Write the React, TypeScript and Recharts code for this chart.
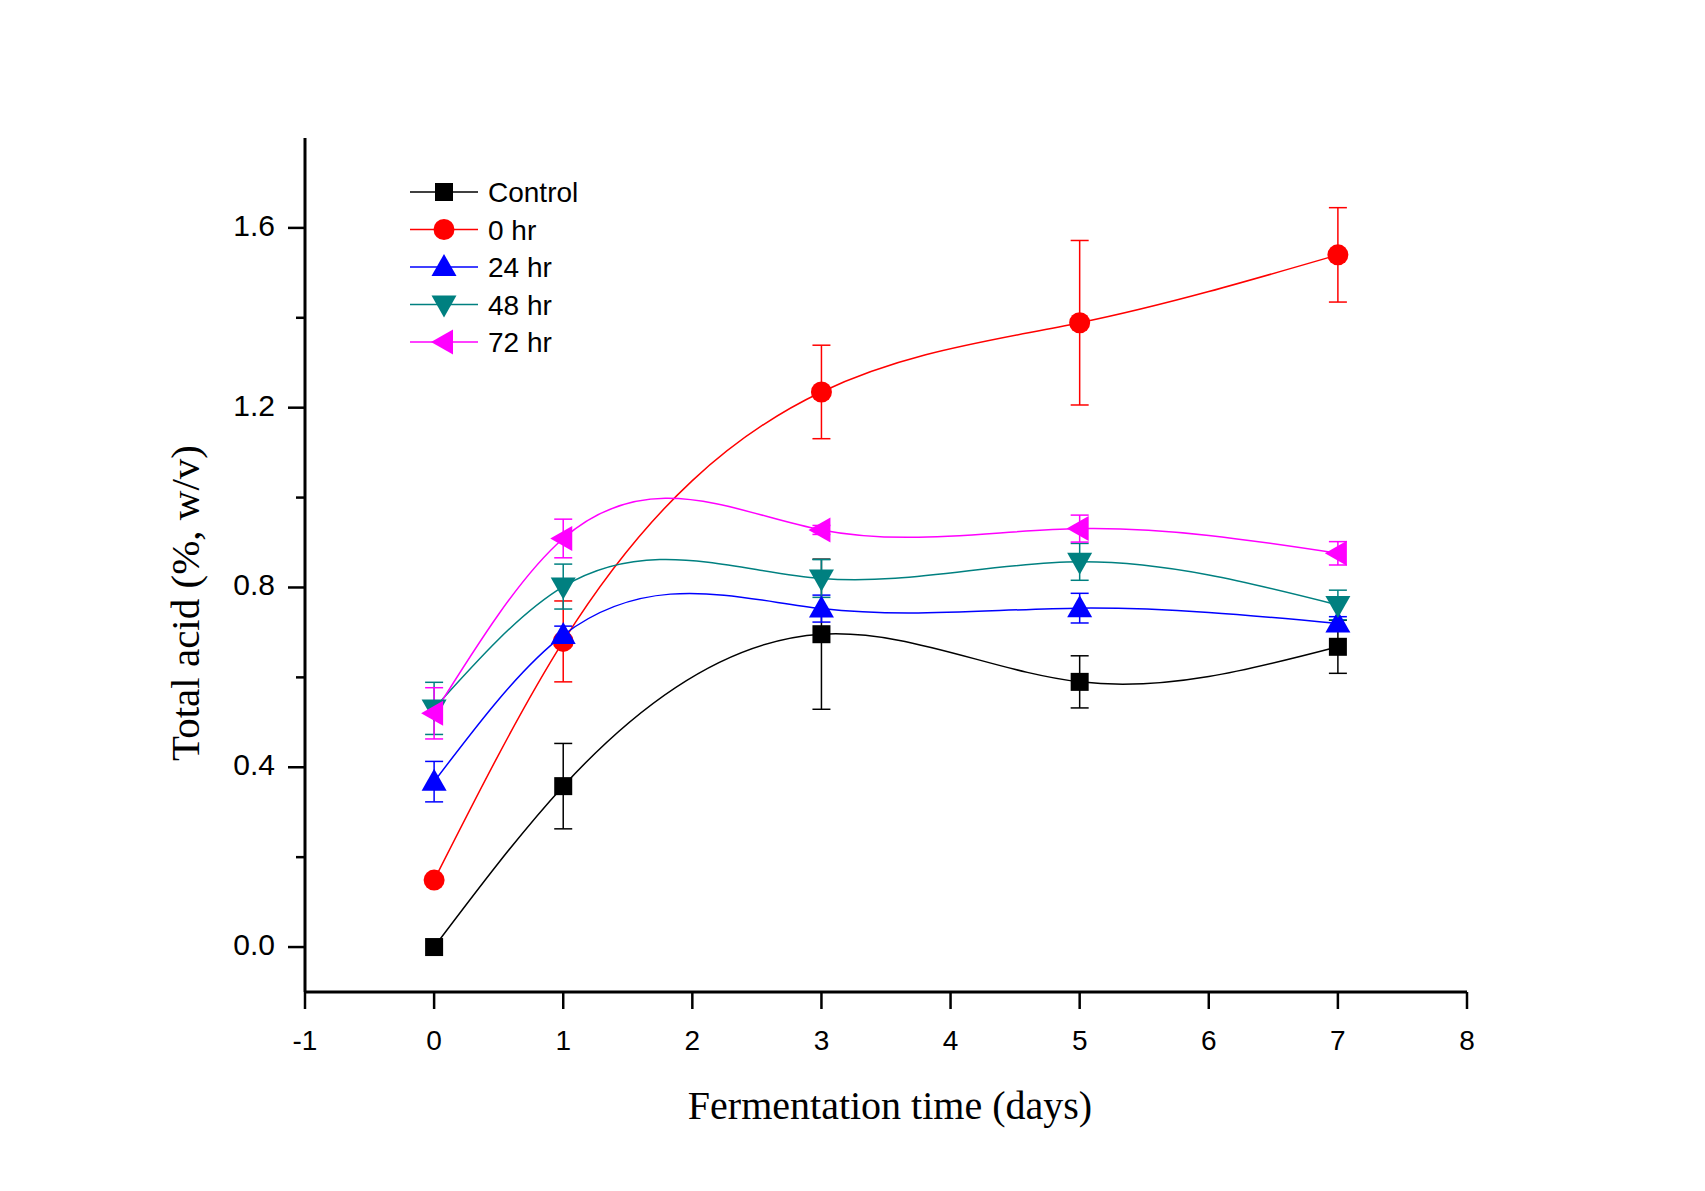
import { LineChart, Line, XAxis, YAxis, ErrorBar } from 'recharts'

const days = [0, 1, 3, 5, 7]
const control = [0.0, 0.358, 0.696, 0.59, 0.668]
const controlErr = [0, 0.095, 0.167, 0.058, 0.059]
const hr0 = [0.149, 0.68, 1.235, 1.389, 1.54]
const hr0Err = [0, 0.09, 0.104, 0.183, 0.105]
const hr24 = [0.368, 0.694, 0.753, 0.754, 0.72]
const hr24Err = [0.045, 0.02, 0.03, 0.033, 0.015]
const hr48 = [0.531, 0.802, 0.82, 0.857, 0.761]
const hr48Err = [0.058, 0.05, 0.042, 0.041, 0.033]
const hr72 = [0.52, 0.909, 0.928, 0.931, 0.876]
const hr72Err = [0.057, 0.043, 0.01, 0.03, 0.026]

const xTicks = [-1, 0, 1, 2, 3, 4, 5, 6, 7, 8]
const yTicks = [0, 0.2, 0.4, 0.6, 0.8, 1.0, 1.2, 1.4, 1.6]

type Shape = 'square' | 'circle' | 'up' | 'down' | 'left'
const series: { key: string; name: string; color: string; shape: Shape }[] = [
  { key: 'control', name: 'Control', color: '#000000', shape: 'square' },
  { key: 'hr0', name: '0 hr', color: '#FF0000', shape: 'circle' },
  { key: 'hr24', name: '24 hr', color: '#0000FF', shape: 'up' },
  { key: 'hr48', name: '48 hr', color: '#008080', shape: 'down' },
  { key: 'hr72', name: '72 hr', color: '#FF00FF', shape: 'left' },
]

const rows = days.map((d, i) => ({
  day: d,
  control: control[i], controlErr: controlErr[i],
  hr0: hr0[i], hr0Err: hr0Err[i],
  hr24: hr24[i], hr24Err: hr24Err[i],
  hr48: hr48[i], hr48Err: hr48Err[i],
  hr72: hr72[i], hr72Err: hr72Err[i],
}))

const SANS = '"Liberation Sans", Arial, sans-serif'
const SERIF = '"Liberation Serif", "Times New Roman", serif'
const Y_TICK = 17
const Y_MARGIN = 13

// natural cubic spline of y as a function of x (like Origin's spline connect)
function xSpline(context: any) {
  let xs: number[] = []
  let ys: number[] = []
  return {
    areaStart() {},
    areaEnd() {},
    lineStart() { xs = []; ys = [] },
    point(x: number, y: number) { xs.push(+x); ys.push(+y) },
    lineEnd() {
      const n = xs.length
      if (!n) return
      context.moveTo(xs[0], ys[0])
      if (n === 1) return
      if (n === 2) { context.lineTo(xs[1], ys[1]); return }
      const h: number[] = []
      for (let i = 0; i < n - 1; i++) h[i] = xs[i + 1] - xs[i]
      const M = new Array(n).fill(0)
      const a: number[] = [], b: number[] = [], c: number[] = [], d: number[] = []
      for (let i = 1; i < n - 1; i++) {
        a[i] = h[i - 1]
        b[i] = 2 * (h[i - 1] + h[i])
        c[i] = h[i]
        d[i] = 6 * ((ys[i + 1] - ys[i]) / h[i] - (ys[i] - ys[i - 1]) / h[i - 1])
      }
      for (let i = 2; i < n - 1; i++) {
        const w = a[i] / b[i - 1]
        b[i] -= w * c[i - 1]
        d[i] -= w * d[i - 1]
      }
      M[n - 2] = d[n - 2] / b[n - 2]
      for (let i = n - 3; i >= 1; i--) M[i] = (d[i] - c[i] * M[i + 1]) / b[i]
      for (let i = 0; i < n - 1; i++) {
        const s = (ys[i + 1] - ys[i]) / h[i]
        const m0 = s - (h[i] * (2 * M[i] + M[i + 1])) / 6
        const m1 = s + (h[i] * (M[i] + 2 * M[i + 1])) / 6
        context.bezierCurveTo(
          xs[i] + h[i] / 3, ys[i] + (m0 * h[i]) / 3,
          xs[i + 1] - h[i] / 3, ys[i + 1] - (m1 * h[i]) / 3,
          xs[i + 1], ys[i + 1],
        )
      }
    },
  }
}

function Marker({ shape, cx, cy, color }: { shape: Shape; cx: number; cy: number; color: string }) {
  if (shape === 'square') return <rect x={cx - 9} y={cy - 9} width={18} height={18} fill={color} />
  if (shape === 'circle') return <circle cx={cx} cy={cy} r={10.5} fill={color} />
  if (shape === 'up') return <polygon points={`${cx},${cy - 13} ${cx - 12.5},${cy + 9} ${cx + 12.5},${cy + 9}`} fill={color} />
  if (shape === 'down') return <polygon points={`${cx},${cy + 13} ${cx - 12.5},${cy - 9} ${cx + 12.5},${cy - 9}`} fill={color} />
  return <polygon points={`${cx - 13},${cy} ${cx + 9},${cy - 12.5} ${cx + 9},${cy + 12.5}`} fill={color} />
}

const YTick = (props: any) => {
  const { x, y, payload } = props
  const ax = x + Y_TICK + Y_MARGIN
  const q = payload.value / 0.4
  const major = Math.abs(q - Math.round(q)) < 1e-6
  return (
    <g>
      <line x1={ax} x2={ax - (major ? Y_TICK : 9)} y1={y} y2={y} stroke="#000" strokeWidth={2.5} />
      {major && (
        <text x={x} y={y + 8} textAnchor="end" fontSize={30} fontFamily={SANS} fill="#000">
          {payload.value.toFixed(1)}
        </text>
      )}
    </g>
  )
}

function LegendBox() {
  return (
    <svg width={260} height={200} style={{ position: 'absolute', left: 400, top: 170 }}>
      {series.map((s, i) => {
        const cy = 22 + i * 37.5
        return (
          <g key={s.key}>
            <line x1={10} x2={78} y1={cy} y2={cy} stroke={s.color} strokeWidth={1.5} />
            <Marker shape={s.shape} cx={44} cy={cy} color={s.color} />
            <text x={88} y={cy + 10} fontSize={28} fontFamily={SANS} fill="#000">{s.name}</text>
          </g>
        )
      })}
    </svg>
  )
}

export default function App() {
  return (
    <div style={{ position: 'absolute', left: 0, top: 0, width: 1705, height: 1191, background: '#fff' }}>
      <LineChart width={1705} height={1191} data={rows} margin={{ top: 138, right: 238, left: 100, bottom: 39 }}>
        <XAxis
          dataKey="day"
          type="number"
          domain={[-1, 8]}
          ticks={xTicks}
          allowDataOverflow
          axisLine={{ stroke: '#000', strokeWidth: 3 }}
          tickLine={{ stroke: '#000', strokeWidth: 2.5 }}
          tickSize={17}
          tickMargin={21}
          tick={{ fontSize: 28, fill: '#000', fontFamily: SANS }}
          height={160}
          label={{
            content: ({ viewBox }: any) => (
              <text x={viewBox.x + viewBox.width / 2 + 4} y={viewBox.y + 127} textAnchor="middle" fontSize={40} fontFamily={SERIF} fill="#000">
                Fermentation time (days)
              </text>
            ),
          }}
        />
        <YAxis
          type="number"
          domain={[-0.1, 1.8]}
          ticks={yTicks}
          allowDataOverflow
          width={205}
          axisLine={{ stroke: '#000', strokeWidth: 3 }}
          tickLine={false}
          tickSize={Y_TICK}
          tickMargin={Y_MARGIN}
          tick={<YTick />}
          label={{
            content: ({ viewBox }: any) => {
              const lx = viewBox.x + 85
              const ly = viewBox.y + viewBox.height / 2 + 38
              return (
                <text x={lx} y={ly} transform={`rotate(-90, ${lx}, ${ly})`} textAnchor="middle" dominantBaseline="central" fontSize={41} fontFamily={SERIF} fill="#000">
                  Total acid (%, w/v)
                </text>
              )
            },
          }}
        />
        {series.map((s) => (
          <Line
            key={s.key}
            dataKey={s.key}
            name={s.name}
            type={xSpline as any}
            stroke={s.color}
            strokeWidth={1.5}
            isAnimationActive={false}
            activeDot={false}
            dot={(p: any) => <Marker key={`${s.key}-${p.index}`} shape={s.shape} cx={p.cx} cy={p.cy} color={s.color} />}
          >
            <ErrorBar dataKey={`${s.key}Err`} width={9} stroke={s.color} strokeWidth={1.5} direction="y" isAnimationActive={false} />
          </Line>
        ))}
      </LineChart>
      <LegendBox />
    </div>
  )
}
